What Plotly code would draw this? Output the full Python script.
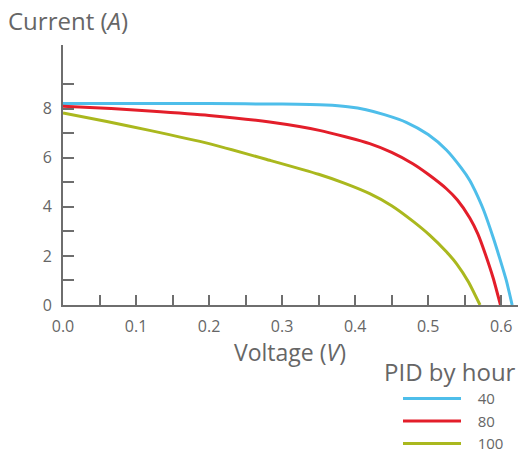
import plotly.graph_objects as go

# PID by hour = 40
v_40 = [0.0, 0.1, 0.2, 0.3, 0.36, 0.39, 0.415, 0.44, 0.47, 0.50, 0.525, 0.545, 0.557, 0.564, 0.576, 0.589, 0.598, 0.607, 0.615]
i_40 = [8.22, 8.22, 8.21, 8.19, 8.15, 8.08, 7.96, 7.76, 7.45, 6.95, 6.32, 5.60, 5.08, 4.67, 3.86, 2.75, 1.90, 1.0, 0.0]

# PID by hour = 80
v_80 = [0.0, 0.066, 0.1185, 0.2, 0.283, 0.351, 0.42, 0.45, 0.479, 0.50, 0.525, 0.540, 0.557, 0.568, 0.578, 0.589, 0.599]
i_80 = [8.10, 8.01, 7.91, 7.73, 7.46, 7.12, 6.58, 6.22, 5.76, 5.33, 4.74, 4.28, 3.55, 2.90, 2.10, 1.10, 0.0]

# PID by hour = 100
v_100 = [0.0, 0.06, 0.1185, 0.2, 0.283, 0.35, 0.385, 0.42, 0.45, 0.479, 0.502, 0.525, 0.539, 0.555, 0.571]
i_100 = [7.83, 7.48, 7.12, 6.58, 5.90, 5.33, 4.97, 4.54, 4.05, 3.42, 2.85, 2.17, 1.68, 0.95, 0.0]

series_names = ["40", "80", "100"]
series_colors = ["#4ebeea", "#e31e2a", "#aab81e"]
legend_title = "PID by hour"

x_major = [0.0, 0.1, 0.2, 0.3, 0.4, 0.5, 0.6]
x_minor = [0.05, 0.15, 0.25, 0.35, 0.45, 0.55]
y_major = [0, 2, 4, 6, 8]
y_minor = [1, 3, 5, 7, 9]

FONT = "Open Sans"
GREY = "#666666"
AXIS = "#6e6e6e"

PW, PH = 455, 259.5  # plot area size in px

fig = go.Figure()
for name, vx, iy, col in zip(series_names, [v_40, v_80, v_100], [i_40, i_80, i_100], series_colors):
    fig.add_trace(go.Scatter(x=vx, y=iy, mode="lines", name="\u00a0\u00a0\u00a0" + name,
                             line=dict(color=col, width=3, shape="spline", smoothing=0.6)))

fig.update_layout(
    width=520, height=452,
    margin=dict(l=63, r=2, t=45, b=147, autoexpand=False),
    paper_bgcolor="white", plot_bgcolor="white",
    font=dict(family=FONT, color=GREY, size=16),
    showlegend=True,
    legend=dict(
        x=(398 - 63) / PW, xanchor="left", y=-77 / PH, yanchor="top",
        itemwidth=58, font=dict(size=15, color=GREY),
        bgcolor="rgba(0,0,0,0)", tracegroupgap=0,
    ),
    xaxis=dict(
        range=[0, 0.623], showgrid=False, zeroline=False,
        showline=True, linecolor=AXIS, linewidth=2,
        tickmode="array", tickvals=x_major, ticktext=[f"{v:.1f}" for v in x_major],
        ticks="inside", ticklen=10, tickwidth=2, tickcolor=AXIS,
        minor=dict(tickmode="array", tickvals=x_minor, ticks="inside", ticklen=10, tickwidth=2, tickcolor=AXIS),
        tickfont=dict(size=16, color=GREY), ticklabelstandoff=6,
    ),
    yaxis=dict(
        range=[0, 10.6], showgrid=False, zeroline=False,
        showline=True, linecolor=AXIS, linewidth=2,
        tickmode="array", tickvals=y_major, ticktext=[str(v) for v in y_major],
        ticks="inside", ticklen=11, tickwidth=2, tickcolor=AXIS,
        minor=dict(tickmode="array", tickvals=y_minor, ticks="inside", ticklen=11, tickwidth=2, tickcolor=AXIS),
        tickfont=dict(size=16, color=GREY), ticklabelstandoff=6,
    ),
    annotations=[
        dict(text="Current (<i>A</i>)", xref="paper", yref="paper", x=-57 / PW, y=1 + 24 / PH,
             xanchor="left", yanchor="middle", showarrow=False, font=dict(size=24, color=GREY)),
        dict(text="Voltage (<i>V</i>)", xref="paper", yref="paper", x=(290 - 63) / PW, y=-47 / PH,
             xanchor="center", yanchor="middle", showarrow=False, font=dict(size=23, color=GREY)),
        dict(text=legend_title, xref="paper", yref="paper", x=(382 - 63) / PW, y=-66.5 / PH,
             xanchor="left", yanchor="middle", showarrow=False, font=dict(size=24, color=GREY)),
    ],
)

fig.write_html("out.html")
